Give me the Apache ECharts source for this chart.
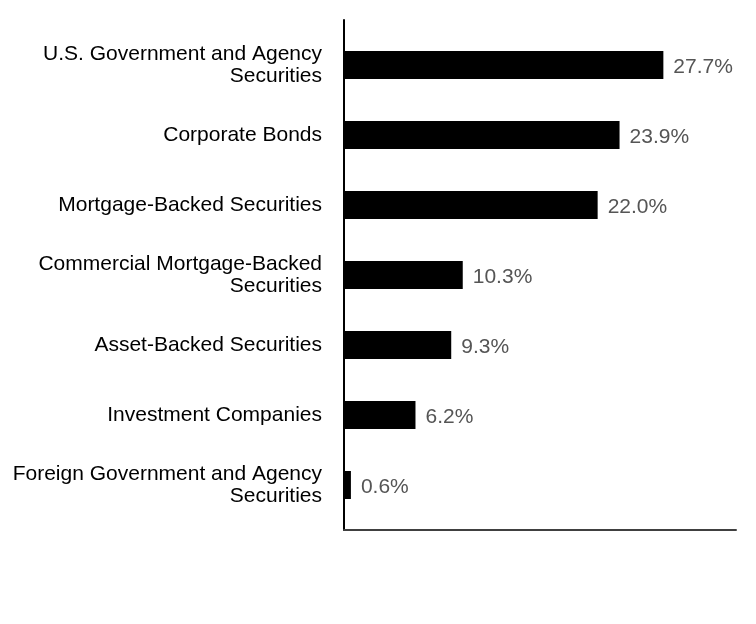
<!DOCTYPE html>
<html>
<head>
<meta charset="utf-8">
<script src="https://cdn.jsdelivr.net/npm/echarts@6/dist/echarts.min.js"></script>
<style>html,body{margin:0;padding:0;background:#fff;}#main{width:756px;height:624px;}</style>
</head>
<body>
<div id="main"></div>
<script>
var categories = [
  "U.S. Government and Agency\nSecurities",
  "Corporate Bonds",
  "Mortgage-Backed Securities",
  "Commercial Mortgage-Backed\nSecurities",
  "Asset-Backed Securities",
  "Investment Companies",
  "Foreign Government and Agency\nSecurities"
];
var values = [27.7, 23.9, 22.0, 10.3, 9.3, 6.2, 0.6];
var xMax = 34;

var chart = echarts.init(document.getElementById('main'), null, {renderer: 'canvas'});
var font = "Liberation Sans, Arial, sans-serif";
chart.setOption({
  animation: false,
  backgroundColor: '#ffffff',
  grid: [
    {left: 344, right: 20, top: 30, bottom: 104},
    {left: 344, right: 20, top: 20, bottom: 94}
  ],
  xAxis: [
    {gridIndex: 0, type: 'value', min: 0, max: xMax, show: false},
    {gridIndex: 1, type: 'value', min: 0, max: xMax,
     axisLine: {show: true, onZero: false, lineStyle: {color: '#404040', width: 2}},
     axisTick: {show: false}, axisLabel: {show: false}, splitLine: {show: false}}
  ],
  yAxis: [
    {gridIndex: 0, type: 'category', data: categories, inverse: true,
     axisLine: {show: false}, axisTick: {show: false}, splitLine: {show: false},
     axisLabel: {color: '#000000', fontSize: 21, fontFamily: font, margin: 22, lineHeight: 22, align: 'right', padding: [3, 0, 0, 0]}},
    {gridIndex: 1, type: 'category', data: categories, inverse: true,
     axisLine: {show: true, onZero: false, lineStyle: {color: '#000000', width: 2}},
     axisTick: {show: false}, axisLabel: {show: false}, splitLine: {show: false}}
  ],
  series: [{
    type: 'bar',
    xAxisIndex: 0, yAxisIndex: 0,
    data: values,
    barWidth: 28,
    itemStyle: {color: '#000000'},
    label: {
      show: true, position: 'right', distance: 10, offset: [0, 2],
      formatter: function (p) { return p.value.toFixed(1) + '%'; },
      color: '#555555', fontSize: 21, fontFamily: font
    }
  }]
});
</script>
</body>
</html>
